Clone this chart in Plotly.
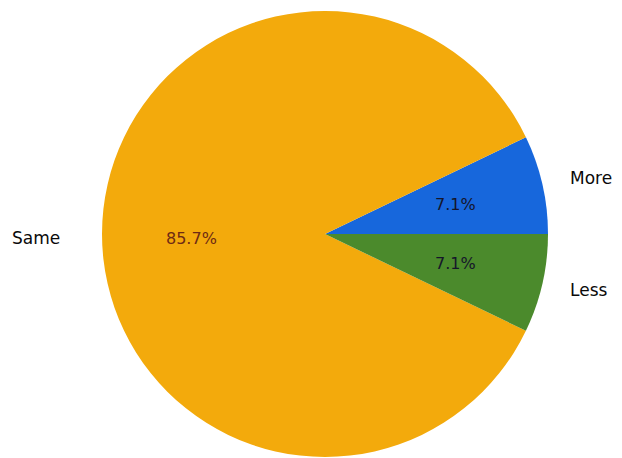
import math
import plotly.graph_objects as go

labels = ["More", "Same", "Less"]
values = [1, 12, 1]
colors = ["#1767dc", "#f3aa0c", "#4b8a2c"]
pct_colors = ["#15152a", "#6e2a14", "#15152a"]

W, H = 622, 458
# pie placement in pixels (layout, not data)
cx, cy, r = 325, 234, 223
dom_x = [(cx - r) / W, (cx + r) / W]
dom_y = [1 - (cy + r) / H, 1 - (cy - r) / H]

total = sum(values)
fig = go.Figure(go.Pie(
    labels=labels, values=values, sort=False,
    direction="counterclockwise", rotation=90 - 360 * values[0] / total,
    marker=dict(colors=colors, line=dict(width=0)),
    textinfo="none", hoverinfo="label+percent",
    domain=dict(x=dom_x, y=dom_y), showlegend=False,
))

start = 0.0
ann = []
for lab, v, pc in zip(labels, values, pct_colors):
    frac = v / total
    mid = math.radians((start + frac / 2) * 360)
    start += frac
    ca, sa = math.cos(mid), math.sin(mid)
    # outside label
    ld = 1.12 if abs(ca) < 0.99 else 1.18
    lx, ly = cx + ld * r * ca, cy - ld * r * sa
    ann.append(dict(x=lx / W, y=1 - (ly + 4 * (ca < 0)) / H, xref="paper", yref="paper",
                    text=lab, showarrow=False,
                    xanchor="left" if ca > 0 else "right", yanchor="middle",
                    font=dict(family="DejaVu Sans", size=17, color="#0a0a0a")))
    # percentage label
    px, py = cx + 0.6 * r * ca, cy - 0.6 * r * sa
    ann.append(dict(x=px / W, y=1 - (py + 4 * (ca < 0)) / H, xref="paper", yref="paper",
                    text=f"{frac*100:.1f}%", showarrow=False,
                    xanchor="center", yanchor="middle",
                    font=dict(family="DejaVu Sans", size=16, color=pc)))

fig.update_layout(width=W, height=H, margin=dict(l=0, r=0, t=0, b=0),
                  paper_bgcolor="white", plot_bgcolor="white",
                  annotations=ann)
fig.write_html("out.html")
